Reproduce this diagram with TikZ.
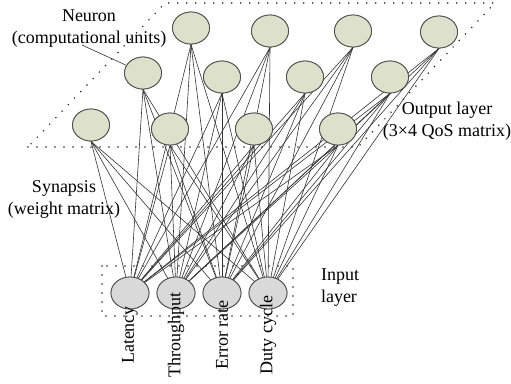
\documentclass[tikz,border=0pt]{standalone}
\usepackage{fontspec}
\setmainfont{Liberation Serif}
\newfontfamily\lserif{Liberation Serif}
\usetikzlibrary{shapes.geometric}
\definecolor{outfill}{HTML}{DDE1CC}
\definecolor{infill}{HTML}{D9D9D9}
\definecolor{edgecol}{HTML}{4A4A4A}
\tikzset{
  outn/.style={ellipse, draw=edgecol, line width=0.8pt, fill=outfill, minimum width=37pt, minimum height=32pt, inner sep=0pt},
  inn/.style={ellipse, draw=edgecol, line width=0.8pt, fill=infill, minimum width=38pt, minimum height=32pt, inner sep=0pt},
  syn/.style={draw=black!80, line width=0.6pt},
  dotbox/.style={draw=black!85, line width=1.7pt, line cap=round, dash pattern=on 0pt off 9pt},
  lbl/.style={font=\lserif\fontsize{18}{22}\selectfont, align=center, inner sep=0pt},
  inlbl/.style={font=\lserif\fontsize{18}{22}\selectfont, rotate=90, inner sep=0pt}
}
\begin{document}
\begin{tikzpicture}[x=1pt,y=-1pt]
\useasboundingbox (0,0) rectangle (511,383);
% layer frames
\coordinate (p1) at (28,147);
\coordinate (p2) at (358,147);
\coordinate (p3) at (495,3);
\coordinate (p4) at (165,3);
\draw[dotbox] (p1) -- (p2) -- (p3) -- (p4) -- cycle;
\coordinate (q1) at (102,266);
\coordinate (q2) at (293,316);
\draw[dotbox] (q1) rectangle (q2);
% output neurons
\node[outn] (a1) at (91,125) {};
\node[outn] (a2) at (170,129) {};
\node[outn] (a3) at (254,129) {};
\node[outn] (a4) at (338,129) {};
\node[outn] (b1) at (143,73) {};
\node[outn] (b2) at (222,77) {};
\node[outn] (b3) at (305,77) {};
\node[outn] (b4) at (390,77) {};
\node[outn] (c1) at (191,28) {};
\node[outn] (c2) at (270,31) {};
\node[outn] (c3) at (353,31) {};
\node[outn] (c4) at (439,32) {};
% input neurons
\node[inn] (i1) at (130,293) {};
\node[inn] (i2) at (176,293) {};
\node[inn] (i3) at (222,293) {};
\node[inn] (i4) at (268,293) {};
% synapses
\foreach \i in {i1,i2,i3,i4}{
  \foreach \o in {a1,a2,a3,a4,b1,b2,b3,b4,c1,c2,c3,c4}{
    \draw[syn] (\i) -- (\o.south);
  }
}
% redraw nodes on top
\foreach \x/\y in {91/125,170/129,254/129,338/129,143/73,222/77,305/77,390/77,191/28,270/31,353/31,439/32}{
  \node[outn] at (\x,\y) {};
}
\foreach \x in {130,176,222,268}{
  \node[inn] at (\x,293) {};
}
% labels
\node[lbl] (neu) at (89,29) {Neuron\\(computational units)};
\coordinate (neup) at (82,45);
\draw[syn] (neup) -- (b1);
\node[lbl] (outl) at (447,121) {Output layer\\(3×4 QoS matrix)};
\node[lbl] (synl) at (64,199) {Synapsis\\(weight matrix)};
\node[lbl, align=left] (inl) at (340,288) {Input\\layer};
\node[inlbl] (l1) at (130,335) {Latency};
\node[inlbl] (l2) at (176,335) {Throughput};
\node[inlbl] (l3) at (222,335) {Error rate};
\node[inlbl] (l4) at (268,335) {Duty cycle};
\end{tikzpicture}
\end{document}
